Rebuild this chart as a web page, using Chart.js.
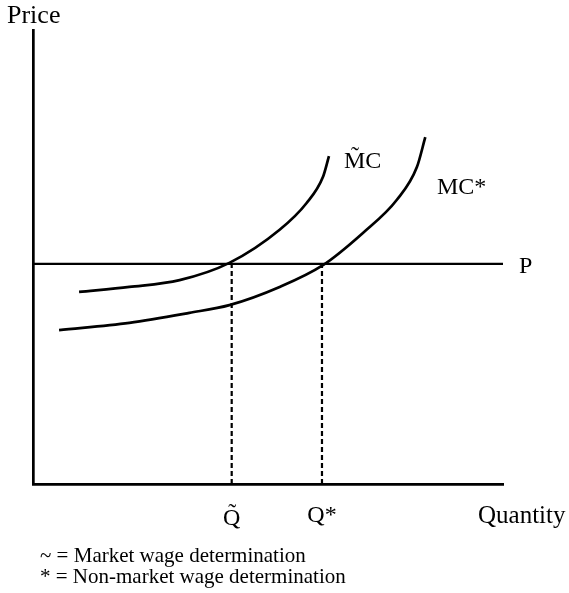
<!DOCTYPE html>
<html>
<head>
<meta charset="utf-8">
<script src="https://cdn.jsdelivr.net/npm/chart.js@4"></script>
<style>
  html, body { margin: 0; padding: 0; background: #ffffff; }
  #wrap { position: relative; width: 569px; height: 593px; }
</style>
</head>
<body>
<div id="wrap"><canvas id="grafico"></canvas></div>
<script>
// values (quantity 0-100, price 0-100)
const mcTilQ = [9.9, 20.7, 31.5, 42.2, 53.0, 58.8, 62.3, 63.6];
const mcTilP = [42.3, 43.4, 44.9, 48.7, 56.0, 61.9, 67.6, 72.2];
const mcStarQ = [5.6, 20.7, 33.6, 42.2, 53.0, 62.3, 70.9, 78.2, 82.5, 84.3];
const mcStarP = [33.9, 35.5, 37.7, 39.4, 43.4, 48.2, 55.3, 62.6, 69.8, 76.4];
const precoQ = [0, 101];
const precoP = 48.5;
const qTil = 42.7;
const qStar = 62.1;
const tickLabels = ["Q\u0303", "Q*"];
const notas = ["~ = Market wage determination", "* = Non-market wage determination"];

const corTexto = "#000000";
const fonte = "'Liberation Serif', 'DejaVu Serif', serif";

function pares(xs, ys) {
  return xs.map((x, i) => ({ x: x, y: Array.isArray(ys) ? ys[i] : ys }));
}

// draws the text labels of the figure
const textos = {
  id: "textos",
  afterDraw(chart) {
    const ctx = chart.ctx;
    const sx = chart.scales.x;
    const sy = chart.scales.y;
    ctx.save();
    ctx.fillStyle = corTexto;
    ctx.textBaseline = "alphabetic";

    ctx.font = "26px " + fonte;
    ctx.textAlign = "left";
    ctx.fillText("Price", 7, 23);

    ctx.font = "24px " + fonte;
    ctx.fillText("P", sx.getPixelForValue(precoQ[1]) + 16, sy.getPixelForValue(precoP) + 9);
    ctx.fillText("M\u0303C", 344, 168);
    ctx.fillText("MC*", 437, 194);

    ctx.font = "25px " + fonte;
    ctx.fillText("Quantity", 478, 523);

    ctx.font = "24px " + fonte;
    ctx.textAlign = "center";
    ctx.fillText(tickLabels[0], sx.getPixelForValue(qTil), 525);
    ctx.fillText(tickLabels[1], sx.getPixelForValue(qStar), 522);

    ctx.font = "21px " + fonte;
    ctx.textAlign = "left";
    ctx.fillText(notas[0], 40, 562);
    ctx.fillText(notas[1], 40, 583);
    ctx.restore();
  }
};

const grafico = new Chart(document.getElementById("grafico"), {
  type: "scatter",
  data: {
    datasets: [
      {
        label: "MC~",
        data: pares(mcTilQ, mcTilP),
        showLine: true,
        cubicInterpolationMode: "monotone",
        borderColor: corTexto,
        borderWidth: 2.7,
        pointRadius: 0
      },
      {
        label: "MC*",
        data: pares(mcStarQ, mcStarP),
        showLine: true,
        cubicInterpolationMode: "monotone",
        borderColor: corTexto,
        borderWidth: 2.7,
        pointRadius: 0
      },
      {
        label: "P",
        data: pares(precoQ, precoP),
        showLine: true,
        borderColor: corTexto,
        borderWidth: 2.2,
        pointRadius: 0
      },
      {
        label: "Q~",
        data: [{ x: qTil, y: 0 }, { x: qTil, y: precoP }],
        showLine: true,
        borderColor: corTexto,
        borderWidth: 2.2,
        borderDash: [5, 3],
        pointRadius: 0
      },
      {
        label: "Q*",
        data: [{ x: qStar, y: 0 }, { x: qStar, y: precoP }],
        showLine: true,
        borderColor: corTexto,
        borderWidth: 2.2,
        borderDash: [5, 3],
        pointRadius: 0
      }
    ]
  },
  options: {
    responsive: true,
    maintainAspectRatio: false,
    animation: false,
    layout: {
      padding: { left: 33, top: 30, right: 66, bottom: 109 }
    },
    plugins: {
      legend: { display: false },
      tooltip: { enabled: false }
    },
    scales: {
      x: {
        type: "linear",
        min: 0,
        max: 101,
        display: true,
        ticks: { display: false },
        grid: { display: false, drawTicks: false },
        border: { display: true, color: corTexto, width: 2.7 }
      },
      y: {
        type: "linear",
        min: 0,
        max: 100,
        display: true,
        ticks: { display: false },
        grid: { display: false, drawTicks: false },
        border: { display: true, color: corTexto, width: 2.7 }
      }
    }
  },
  plugins: [textos]
});
</script>
</body>
</html>
